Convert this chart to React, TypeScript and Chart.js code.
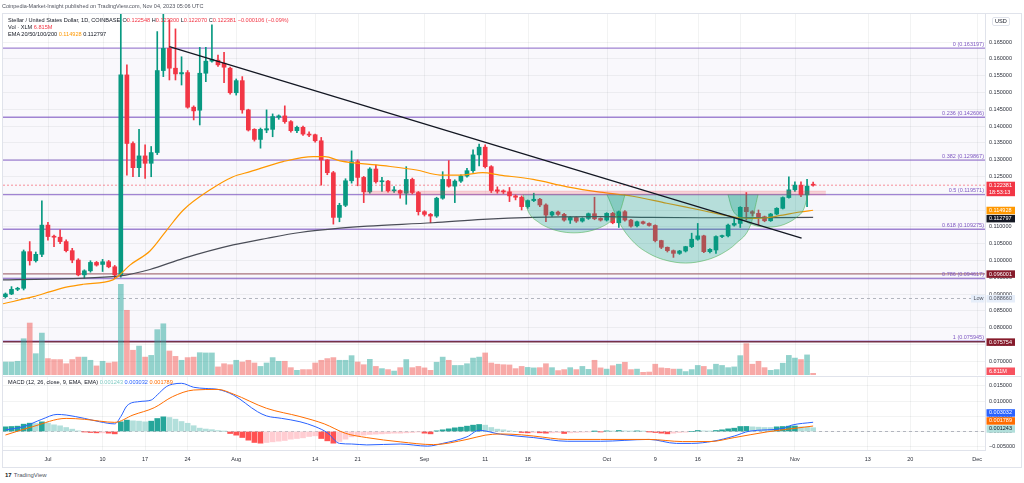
import React, { useEffect, useRef } from 'react';
import { Chart, registerables } from 'chart.js';

Chart.register(...registerables);

const FONT = "'Liberation Sans', Arial, sans-serif";

// ---------- axis ranges ----------
const X_MIN = -7.4; // days since Jul 1 2023
const X_MAX = 154.3;
const PRICE_MIN = 0.065893;
const PRICE_MAX = 0.173631;
const VOLUME_MAX = 1477; // millions
const MACD_MIN = -0.006066;
const MACD_MAX = 0.018197;

// ---------- tick labels ----------
const X_TICK_DAYS = [0, 9, 16, 23, 31, 44, 51, 62, 72, 79, 92, 100, 107, 114, 123, 135, 142, 153];
const X_TICK_LABELS = ['Jul', '10', '17', '24', 'Aug', '14', '21', 'Sep', '11', '18', 'Oct', '9', '16', '23', 'Nov', '13', '20', 'Dec'];
const PRICE_TICKS = [0.07, 0.075, 0.08, 0.085, 0.09, 0.095, 0.1, 0.105, 0.11, 0.115, 0.12, 0.125, 0.13, 0.135, 0.14, 0.145, 0.15, 0.155, 0.16, 0.165];
const MACD_TICKS = [-0.005, 0, 0.005, 0.01, 0.015];

// ---------- candles (daily, first candle = Jun 24) ----------
const FIRST_DAY = -7;
const OPEN = [
  0.0892, 0.0900, 0.0914, 0.0917, 0.1026, 0.0999, 0.1018, 0.1105, 0.1072, 0.1069,
  0.1056, 0.1029, 0.1001, 0.0957, 0.0969, 0.0994, 0.0988, 0.0996, 0.0981, 0.0957,
  0.1552, 0.1348, 0.1276, 0.1311, 0.1289, 0.1321, 0.1565, 0.1631, 0.1572, 0.1555,
  0.1559, 0.1456, 0.1447, 0.1557, 0.1593, 0.1596, 0.1587, 0.1572, 0.1499, 0.1535,
  0.1448, 0.1390, 0.1360, 0.1388, 0.1390, 0.1426, 0.1430, 0.1413, 0.1386, 0.1396,
  0.1376, 0.1374, 0.1356, 0.1299, 0.1261, 0.1128, 0.1164, 0.1237, 0.1294, 0.1247,
  0.1204, 0.1272, 0.1234, 0.1236, 0.1207, 0.1208, 0.1200, 0.1241, 0.1202, 0.1145,
  0.1137, 0.1132, 0.1185, 0.1241, 0.1221, 0.1236, 0.1251, 0.1267, 0.1314, 0.1337,
  0.1279, 0.1210, 0.1206, 0.1204, 0.1192, 0.1188, 0.1160, 0.1178, 0.1182, 0.1165,
  0.1135, 0.1144, 0.1137, 0.1120, 0.1128, 0.1117, 0.1125, 0.1139, 0.1125, 0.1120,
  0.1140, 0.1112, 0.1145, 0.1120, 0.1103, 0.1115, 0.1110, 0.1104, 0.1059, 0.1039,
  0.1029, 0.1021, 0.1028, 0.1041, 0.1063, 0.1073, 0.1026, 0.1031, 0.1071, 0.1073,
  0.1105, 0.1110, 0.1158, 0.1145, 0.1140, 0.1130, 0.1118, 0.1138, 0.1155, 0.1187,
  0.1210, 0.1224, 0.1195, 0.122548,
];
const HIGH = [
  0.0903, 0.0922, 0.0920, 0.1031, 0.1056, 0.1025, 0.1177, 0.1113, 0.1075, 0.1091,
  0.1061, 0.1036, 0.1005, 0.0972, 0.0999, 0.0997, 0.1003, 0.1000, 0.0985, 0.1900,
  0.1582, 0.1353, 0.1390, 0.1344, 0.1339, 0.1681, 0.1760, 0.1716, 0.1689, 0.1606,
  0.1565, 0.1460, 0.1634, 0.1634, 0.1701, 0.1611, 0.1619, 0.1575, 0.1540, 0.1547,
  0.1450, 0.1392, 0.1394, 0.1448, 0.1436, 0.1433, 0.1460, 0.1416, 0.1400, 0.1400,
  0.1383, 0.1376, 0.1366, 0.1300, 0.1265, 0.1170, 0.1243, 0.1326, 0.1299, 0.1250,
  0.1276, 0.1284, 0.1247, 0.1238, 0.1220, 0.1210, 0.1279, 0.1245, 0.1205, 0.1148,
  0.1140, 0.1188, 0.1264, 0.1297, 0.1240, 0.1255, 0.1274, 0.1329, 0.1346, 0.1344,
  0.1282, 0.1219, 0.1210, 0.1217, 0.1195, 0.1192, 0.1180, 0.1200, 0.1185, 0.1168,
  0.1146, 0.1147, 0.1140, 0.1131, 0.1130, 0.1127, 0.1141, 0.1188, 0.1127, 0.1142,
  0.1143, 0.1147, 0.1148, 0.1122, 0.1117, 0.1117, 0.1112, 0.1106, 0.1060, 0.1040,
  0.1031, 0.1030, 0.1042, 0.1081, 0.1110, 0.1075, 0.1035, 0.1073, 0.1075, 0.1108,
  0.1125, 0.1160, 0.1202, 0.1148, 0.1150, 0.1132, 0.1140, 0.1157, 0.1189, 0.1249,
  0.1234, 0.1234, 0.1241, 0.1233,
];
const LOW = [
  0.0889, 0.0898, 0.0910, 0.0912, 0.0986, 0.0995, 0.1011, 0.1060, 0.1041, 0.1050,
  0.1025, 0.0993, 0.0954, 0.0947, 0.0965, 0.0983, 0.0967, 0.0978, 0.0946, 0.0950,
  0.1254, 0.1249, 0.1249, 0.1244, 0.1249, 0.1315, 0.1547, 0.1537, 0.1537, 0.1522,
  0.1453, 0.1418, 0.1403, 0.1532, 0.1590, 0.1577, 0.1529, 0.1495, 0.1492, 0.1438,
  0.1385, 0.1355, 0.1334, 0.1380, 0.1368, 0.1420, 0.1408, 0.1382, 0.1380, 0.1372,
  0.1368, 0.1352, 0.1224, 0.1255, 0.1108, 0.1115, 0.1160, 0.1230, 0.1222, 0.1172,
  0.1200, 0.1230, 0.1205, 0.1203, 0.1202, 0.1185, 0.1167, 0.1198, 0.1135, 0.1132,
  0.1112, 0.1128, 0.1182, 0.1218, 0.1172, 0.1232, 0.1248, 0.1262, 0.1281, 0.1275,
  0.1202, 0.1200, 0.1199, 0.1175, 0.1180, 0.1150, 0.1155, 0.1175, 0.1160, 0.1115,
  0.1131, 0.1134, 0.1117, 0.1110, 0.1113, 0.1114, 0.1122, 0.1121, 0.1117, 0.1117,
  0.1109, 0.1098, 0.1117, 0.1099, 0.1100, 0.1108, 0.1102, 0.1055, 0.1035, 0.1025,
  0.1009, 0.1018, 0.1025, 0.1038, 0.1060, 0.1023, 0.1022, 0.1021, 0.1068, 0.1070,
  0.1102, 0.1098, 0.1120, 0.1132, 0.1105, 0.1115, 0.1116, 0.1136, 0.1153, 0.1185,
  0.1205, 0.1190, 0.1160, 0.12207,
];
const CLOSE = [
  0.0900, 0.0914, 0.0917, 0.1026, 0.0999, 0.1018, 0.1105, 0.1071, 0.1069, 0.1056,
  0.1029, 0.1001, 0.0957, 0.0969, 0.0994, 0.0986, 0.0996, 0.0981, 0.0957, 0.1552,
  0.1348, 0.1276, 0.1311, 0.1289, 0.1321, 0.1565, 0.1631, 0.1572, 0.1555, 0.1559,
  0.1456, 0.1445, 0.1557, 0.1593, 0.1598, 0.1582, 0.1575, 0.1499, 0.1535, 0.1448,
  0.1388, 0.1360, 0.1390, 0.1392, 0.1428, 0.1430, 0.1413, 0.1386, 0.1396, 0.1376,
  0.1373, 0.1356, 0.1299, 0.1261, 0.1128, 0.1164, 0.1237, 0.1294, 0.1247, 0.1204,
  0.1272, 0.1234, 0.1236, 0.1207, 0.1208, 0.1200, 0.1241, 0.1202, 0.1145, 0.1137,
  0.1132, 0.1185, 0.1241, 0.1221, 0.1236, 0.1251, 0.1267, 0.1314, 0.1337, 0.1279,
  0.1208, 0.1206, 0.1204, 0.1192, 0.1188, 0.1160, 0.1178, 0.1182, 0.1165, 0.1135,
  0.1144, 0.1137, 0.1120, 0.1128, 0.1117, 0.1125, 0.1139, 0.1124, 0.1120, 0.1140,
  0.1112, 0.1145, 0.1120, 0.1102, 0.1115, 0.1110, 0.1104, 0.1059, 0.1039, 0.1029,
  0.1021, 0.1028, 0.1041, 0.1063, 0.1073, 0.1026, 0.1033, 0.1071, 0.1073, 0.1105,
  0.1110, 0.1158, 0.1145, 0.1140, 0.1130, 0.1118, 0.1138, 0.1155, 0.1187, 0.1210,
  0.1224, 0.1195, 0.1221, 0.122381,
];
// volume in millions of XLM
const VOLUME = [
  53, 53, 56, 148, 212, 87, 171, 67, 63, 63,
  46, 63, 73, 73, 60, 37, 56, 49, 53, 370,
  264, 101, 118, 73, 80, 185, 209, 98, 76, 60,
  71, 73, 91, 90, 90, 33, 46, 42, 60, 53,
  60, 49, 35, 49, 71, 56, 56, 30, 19, 22,
  22, 49, 60, 67, 71, 60, 60, 79, 53, 42,
  64, 35, 26, 22, 16, 30, 63, 30, 35, 29,
  19, 52, 73, 60, 39, 39, 46, 69, 73, 90,
  49, 44, 42, 41, 26, 35, 31, 29, 30, 46,
  30, 18, 22, 30, 22, 35, 23, 60, 29, 24,
  38, 44, 52, 22, 24, 11, 12, 44, 29, 27,
  24, 24, 14, 22, 39, 35, 22, 44, 39, 30,
  33, 79, 128, 44, 56, 30, 19, 22, 48, 80,
  69, 63, 82, 6.811,
];

// ---------- MACD (values x 1000) ----------
const MACD_HIST_X1000 = [
  1.53, 1.64, 1.75, 2.40, 2.73, 2.62, 3.17, 2.73, 2.19, 1.86,
  1.31, 0.77, 0.22, -0.10, -0.33, -0.44, -0.44, -0.55, -0.77, 3.17,
  3.72, 3.50, 3.39, 3.17, 3.39, 4.26, 4.81, 4.59, 4.04, 3.28,
  2.70, 1.90, 1.10, 0.80, 0.60, 0.30, 0.05, -0.66, -1.20, -1.97,
  -2.84, -3.60, -3.83, -3.60, -3.39, -3.17, -2.95, -2.51, -2.30, -2.08,
  -1.64, -1.42, -2.30, -3.06, -3.83, -3.28, -2.51, -1.75, -1.42, -1.20,
  -0.98, -0.87, -0.77, -0.66, -0.55, -0.55, -0.44, -0.33, -0.11, -0.55,
  -0.77, 0.22, 0.55, 0.87, 1.20, 1.42, 1.75, 2.08, 2.30, 2.08,
  1.31, 0.77, 0.55, 0.22, 0.00, -0.33, -0.44, -0.33, -0.44, -0.55,
  -0.44, -0.33, -0.66, -0.44, -0.33, -0.22, -0.11, 0.05, -0.10, 0.20,
  0.10, 0.33, 0.20, 0.10, 0.20, 0.10, -0.05, -0.33, -0.55, -0.77,
  -0.55, -0.33, -0.22, 0.00, 0.33, 0.20, 0.10, 0.33, 0.55, 0.87,
  1.09, 1.64, 1.66, 1.53, 1.42, 1.31, 1.30, 1.53, 1.64, 1.75,
  1.80, 1.53, 1.42, 1.243,
];
const MACD_DAYS = [-7, -4, -1, 1.5, 3, 6, 8.5, 11, 12, 13, 15, 17, 18, 19.5, 20.5, 22, 24, 26, 28, 30.5, 34.5, 36, 38.5, 41.5, 44, 46, 48, 50, 52.5, 58, 62.5, 65, 69, 71, 74.5, 80, 85.5, 91, 99, 103.5, 106, 109.5, 113, 115.5, 121, 122.5, 126];
const MACD_X1000 = [0.5, 1.6, 4.0, 5.6, 5.4, 4.3, 3.2, 2.5, 4.9, 8.4, 9.8, 10.3, 12.0, 14.7, 15.5, 15.8, 14.5, 14.1, 13.8, 12.0, 6.5, 5.1, 4.3, 3.2, 1.6, -0.4, -3.9, -4.1, -4.4, -4.1, -4.8, -3.9, -1.75, 0.4, -0.9, -2.0, -3.2, -3.2, -2.6, -3.9, -3.9, -3.2, -1.5, 0.1, 1.0, 2.1, 3.032];
const SIGNAL_DAYS = [-7, -2.5, 3, 6, 11, 14, 17.5, 20.5, 24, 28, 30.5, 36, 41.5, 45.5, 49, 52.5, 58, 63.5, 69, 72, 74.5, 78, 80, 85.5, 91, 99, 104.5, 109, 113, 118.5, 124, 126];
const SIGNAL_X1000 = [-1.15, 1.6, 4.3, 4.0, 3.0, 5.4, 7.8, 11.4, 13.6, 13.8, 12.3, 7.6, 4.9, 2.5, -0.6, -2.0, -3.4, -4.3, -2.6, -1.2, -0.8, -1.1, -1.5, -2.6, -2.6, -2.6, -3.3, -3.3, -2.0, -0.1, 1.3, 1.789];

// ---------- EMAs ----------
const EMA50_DAYS = [-7.4, -2.4, 0.4, 3.2, 5.8, 10.7, 12, 13.5, 16.8, 19.6, 22.3, 26.7, 30.5, 33.3, 38.7, 43.7, 45.6, 48.1, 55.2, 60.7, 64.6, 67.9, 71.6, 74.4, 79.9, 85.5, 90.9, 96.3, 101.9, 107.4, 112.8, 115.6, 118.4, 121.0, 123.8, 126];
const EMA50_VALUES = [0.0871, 0.0892, 0.0907, 0.0921, 0.0929, 0.0942, 0.0960, 0.0986, 0.1028, 0.1091, 0.1150, 0.1210, 0.1249, 0.1264, 0.1294, 0.1309, 0.1309, 0.1296, 0.1282, 0.1269, 0.1254, 0.1254, 0.1261, 0.1254, 0.1241, 0.1219, 0.1203, 0.1191, 0.1170, 0.1150, 0.1130, 0.1125, 0.1127, 0.1135, 0.1144, 0.114928];
const EMA200_DAYS = [-7.9, 11.9, 16.8, 22.3, 30.5, 36.1, 41.5, 48.1, 52.6, 63.4, 71.6, 79.9, 90.9, 99.1, 107.4, 126];
const EMA200_VALUES = [0.0942, 0.0954, 0.0973, 0.1006, 0.1046, 0.1066, 0.1083, 0.1096, 0.1102, 0.1112, 0.1122, 0.1128, 0.1130, 0.1128, 0.1127, 0.112797];

// ---------- drawings ----------
const FIB_RATIOS = ['0', '0.236', '0.382', '0.5', '0.618', '0.786', '1'];
const FIB_LEVELS = [0.163197, 0.142606, 0.129867, 0.119571, 0.109275, 0.094617, 0.075945];
const SUPPORT_LEVELS = [0.096001, 0.075754];
const LAST_PRICE = 0.122381;
const LOW_PRICE = 0.08866;
const TREND_DAYS = [20, 124.1];
const TREND_VALUES = [0.1636, 0.1066];
const ZONE_DAYS = [51.9, 128.1];
const ZONE_LOW = 0.1194;
const ZONE_HIGH = 0.1206;
const CUP_TOP = 0.1196;
const CUP1_DAYS = [78.24, 79.08, 80.75, 82.43, 84.11, 86.63, 89.15, 90.83, 92.51, 94.19, 95.03];
const CUP1_VALUES = [0.1196, 0.1146, 0.1114, 0.1097, 0.1087, 0.1082, 0.1087, 0.1097, 0.1114, 0.1146, 0.1196];
const CUP2_DAYS = [92.05, 94.25, 96.63, 99.02, 101.41, 104.99, 108.57, 110.96, 113.34, 115.73, 116.93];
const CUP2_VALUES = [0.1196, 0.1107, 0.1051, 0.1020, 0.1002, 0.0992, 0.1002, 0.1020, 0.1051, 0.1107, 0.1196];
const CUP3_DAYS = [111.98, 112.64, 113.96, 115.28, 116.59, 118.57, 120.54, 121.86, 123.18, 124.49, 125.15];
const CUP3_VALUES = [0.1196, 0.1154, 0.1127, 0.1112, 0.1103, 0.1099, 0.1103, 0.1112, 0.1127, 0.1154, 0.1196];

// ---------- styles ----------
const GREEN = '#089981';
const RED = '#f23645';
const GRID = 'rgba(42,46,57,0.06)';
const AXIS_TEXT = '#2a2e39';
const TAG_FONT = `5.5px ${FONT}`;

const pts = (xs: number[], ys: number[], k = 1) => xs.map((x, i) => ({ x, y: ys[i] * k }));
const span = (v: number) => [{ x: X_MIN, y: v }, { x: X_MAX, y: v }];

function drawTag(ctx: any, x: number, yc: number, w: number, bg: string, fg: string, lines: string[]) {
  const h = 7 * lines.length + 0.5;
  const top = yc - 3.5;
  ctx.fillStyle = bg;
  ctx.fillRect(x, top, w, h);
  ctx.fillStyle = fg;
  ctx.font = TAG_FONT;
  ctx.textAlign = 'left';
  ctx.textBaseline = 'middle';
  lines.forEach((t, i) => ctx.fillText(t, x + 2.5, top + 3.7 + i * 7));
}

const priceDecor = {
  id: 'priceDecor',
  beforeDatasetsDraw(chart: any) {
    const { ctx, chartArea, scales } = chart;
    ctx.save();
    ctx.strokeStyle = GRID;
    ctx.lineWidth = 1;
    X_TICK_DAYS.forEach((d) => {
      const px = Math.round(scales.x.getPixelForValue(d)) + 0.5;
      ctx.beginPath();
      ctx.moveTo(px, chartArea.top);
      ctx.lineTo(px, chartArea.bottom);
      ctx.stroke();
    });
    ctx.restore();
  },
  afterDatasetsDraw(chart: any) {
    const { ctx, chartArea, scales } = chart;
    ctx.save();
    ctx.font = TAG_FONT;
    ctx.fillStyle = '#7e57c2';
    ctx.textAlign = 'right';
    ctx.textBaseline = 'alphabetic';
    FIB_LEVELS.forEach((v, i) => {
      ctx.fillText(`${FIB_RATIOS[i]} (${v.toFixed(6)})`, chartArea.right - 1, scales.y.getPixelForValue(v) - 2.5);
    });
    ctx.restore();
  },
  afterDraw(chart: any) {
    const { ctx, chartArea, scales } = chart;
    const y = scales.y;
    const x0 = chartArea.right + 1.5;
    const w = 28.5;
    ctx.save();
    drawTag(ctx, x0, y.getPixelForValue(SUPPORT_LEVELS[0]), w, '#861b2b', '#ffffff', [SUPPORT_LEVELS[0].toFixed(6)]);
    drawTag(ctx, x0, y.getPixelForValue(SUPPORT_LEVELS[1]), w, '#861b2b', '#ffffff', [SUPPORT_LEVELS[1].toFixed(6)]);
    const lowY = y.getPixelForValue(LOW_PRICE);
    drawTag(ctx, x0, lowY, w, '#e6eefa', '#50535e', [LOW_PRICE.toFixed(6)]);
    drawTag(ctx, chartArea.right - 14, lowY, 13.5, '#e6eefa', '#50535e', ['Low']);
    const ema50 = EMA50_VALUES[EMA50_VALUES.length - 1];
    const ema200 = EMA200_VALUES[EMA200_VALUES.length - 1];
    drawTag(ctx, x0, y.getPixelForValue(ema50), w, '#ff9800', '#ffffff', [ema50.toFixed(6)]);
    drawTag(ctx, x0, y.getPixelForValue(ema200) + 1, w, '#131722', '#ffffff', [ema200.toFixed(6)]);
    drawTag(ctx, x0, y.getPixelForValue(LAST_PRICE), w, RED, '#ffffff', [LAST_PRICE.toFixed(6), '18:53:13']);
    const lastVol = VOLUME[VOLUME.length - 1];
    const volY = Math.min(scales.yVol.getPixelForValue(lastVol), chartArea.bottom - 4);
    drawTag(ctx, x0, volY, w, '#f7525f', '#ffffff', [`${lastVol.toFixed(3)}M`]);
    ctx.restore();
  },
};

const macdDecor = {
  id: 'macdDecor',
  afterDraw(chart: any) {
    const { ctx, chartArea, scales } = chart;
    const y = scales.y;
    const x0 = chartArea.right + 1.5;
    const w = 28.5;
    const tags = [
      { v: MACD_HIST_X1000[MACD_HIST_X1000.length - 1] / 1000, bg: '#b2dfdb', fg: '#131722' },
      { v: SIGNAL_X1000[SIGNAL_X1000.length - 1] / 1000, bg: '#ff6d00', fg: '#ffffff' },
      { v: MACD_X1000[MACD_X1000.length - 1] / 1000, bg: '#2962ff', fg: '#ffffff' },
    ];
    let prev = Infinity;
    ctx.save();
    tags.forEach((t) => {
      const py = Math.min(y.getPixelForValue(t.v) + 1, prev - 8);
      prev = py;
      drawTag(ctx, x0, py, w, t.bg, t.fg, [t.v.toFixed(6)]);
    });
    ctx.restore();
  },
};

function PriceChart() {
  const ref = useRef<HTMLCanvasElement | null>(null);
  useEffect(() => {
    if (!ref.current) return;
    const days = OPEN.map((_, i) => FIRST_DAY + i);
    const candleColors = OPEN.map((o, i) => (CLOSE[i] >= o ? GREEN : RED));
    const volColors = OPEN.map((o, i) => (CLOSE[i] >= o ? 'rgba(38,166,154,0.5)' : 'rgba(239,83,80,0.5)'));
    const lineBase = { type: 'line', pointRadius: 0, fill: false, tension: 0 };
    const cup = (xs: number[], ys: number[]) => ({
      ...lineBase,
      data: pts(xs, ys),
      cubicInterpolationMode: 'monotone',
      fill: { value: CUP_TOP },
      backgroundColor: 'rgba(8,153,129,0.28)',
      borderColor: 'rgba(76,175,80,0.55)',
      borderWidth: 1,
      order: 20,
    });
    const datasets: any[] = [
      { ...lineBase, data: span(FIB_LEVELS[0]), fill: { value: FIB_LEVELS[FIB_LEVELS.length - 1] }, backgroundColor: 'rgba(126,87,194,0.045)', borderWidth: 0, order: 100 },
      ...FIB_LEVELS.map((v) => ({ ...lineBase, data: span(v), borderColor: 'rgba(126,87,194,0.72)', borderWidth: 1.3, order: 90 })),
      { ...lineBase, data: span(SUPPORT_LEVELS[0]), borderColor: '#a8737b', borderWidth: 1.2, order: 89 },
      { ...lineBase, data: span(SUPPORT_LEVELS[1]), borderColor: '#74304a', borderWidth: 1.5, order: 89 },
      { ...lineBase, data: span(LOW_PRICE), borderColor: '#b2b5be', borderWidth: 1, borderDash: [3, 3], order: 88 },
      { ...lineBase, data: span(LAST_PRICE), borderColor: 'rgba(242,54,69,0.55)', borderWidth: 1, borderDash: [2, 2], order: 88 },
      { type: 'bar', yAxisID: 'yVol', data: days.map((d, i) => ({ x: d, y: VOLUME[i] })), backgroundColor: volColors, barThickness: 5, grouped: false, order: 70 },
      { type: 'bar', data: days.map((d, i) => ({ x: d, y: [LOW[i], HIGH[i]] })), backgroundColor: candleColors, barThickness: 1, grouped: false, order: 51 },
      { type: 'bar', data: days.map((d, i) => ({ x: d, y: [OPEN[i], CLOSE[i]] })), backgroundColor: candleColors, barThickness: 4, minBarLength: 1, grouped: false, order: 50 },
      { ...lineBase, data: pts(EMA200_DAYS, EMA200_VALUES), cubicInterpolationMode: 'monotone', borderColor: '#4a4d57', borderWidth: 1.2, order: 40 },
      { ...lineBase, data: pts(EMA50_DAYS, EMA50_VALUES), cubicInterpolationMode: 'monotone', borderColor: '#ff9800', borderWidth: 1.2, order: 39 },
      cup(CUP1_DAYS, CUP1_VALUES),
      cup(CUP2_DAYS, CUP2_VALUES),
      cup(CUP3_DAYS, CUP3_VALUES),
      { ...lineBase, data: [{ x: ZONE_DAYS[0], y: ZONE_HIGH }, { x: ZONE_DAYS[1], y: ZONE_HIGH }], fill: { value: ZONE_LOW }, backgroundColor: 'rgba(242,54,69,0.2)', borderColor: 'rgba(242,54,69,0.25)', borderWidth: 0.8, order: 15 },
      { ...lineBase, data: pts(TREND_DAYS, TREND_VALUES), borderColor: '#131722', borderWidth: 1.3, order: 5 },
    ];
    const chart = new Chart(ref.current, {
      type: 'bar',
      data: { datasets },
      options: {
        responsive: false,
        animation: false,
        events: [],
        layout: { padding: { left: 3, top: 13, right: 0, bottom: 9 } },
        plugins: { legend: { display: false }, tooltip: { enabled: false } },
        scales: {
          x: { type: 'linear', display: false, min: X_MIN, max: X_MAX, offset: false },
          y: {
            type: 'linear',
            position: 'right',
            min: PRICE_MIN,
            max: PRICE_MAX,
            grid: { color: GRID, drawTicks: false },
            border: { display: true, color: '#e0e3eb' },
            ticks: { padding: 4, font: { family: FONT, size: 5.5 }, color: AXIS_TEXT, callback: (v: any) => Number(v).toFixed(6) },
            afterBuildTicks: (s: any) => { s.ticks = PRICE_TICKS.map((v) => ({ value: v })); },
            afterFit: (s: any) => { s.width = 39; },
          },
          yVol: { type: 'linear', display: false, min: 0, max: VOLUME_MAX },
        },
      } as any,
      plugins: [priceDecor],
    });
    return () => chart.destroy();
  }, []);
  return <canvas ref={ref} width={1024} height={384} style={{ position: 'absolute', left: 0, top: 0, width: 1024, height: 384 }} />;
}

function MacdChart() {
  const ref = useRef<HTMLCanvasElement | null>(null);
  useEffect(() => {
    if (!ref.current) return;
    const days = MACD_HIST_X1000.map((_, i) => FIRST_DAY + i);
    const histColors = MACD_HIST_X1000.map((v, i) => {
      const prev = i > 0 ? MACD_HIST_X1000[i - 1] : v;
      if (v >= 0) return v >= prev ? '#26a69a' : '#b2dfdb';
      return v < prev ? '#ff5252' : '#ffcdd2';
    });
    const lineBase = { type: 'line', pointRadius: 0, fill: false, cubicInterpolationMode: 'monotone' };
    const chart = new Chart(ref.current, {
      type: 'bar',
      data: {
        datasets: [
          { ...lineBase, data: span(0), borderColor: '#b2b5be', borderWidth: 1, borderDash: [3, 3], order: 50 },
          { type: 'bar', data: days.map((d, i) => ({ x: d, y: MACD_HIST_X1000[i] / 1000 })), backgroundColor: histColors, barThickness: 5, grouped: false, order: 30 },
          { ...lineBase, data: pts(MACD_DAYS, MACD_X1000, 0.001), borderColor: '#2962ff', borderWidth: 1, order: 10 },
          { ...lineBase, data: pts(SIGNAL_DAYS, SIGNAL_X1000, 0.001), borderColor: '#ff6d00', borderWidth: 1, order: 9 },
        ] as any[],
      },
      options: {
        responsive: false,
        animation: false,
        events: [],
        layout: { padding: { left: 3, top: 9, right: 0, bottom: 0 } },
        plugins: { legend: { display: false }, tooltip: { enabled: false } },
        scales: {
          x: {
            type: 'linear',
            min: X_MIN,
            max: X_MAX,
            offset: false,
            grid: { color: GRID, drawTicks: false, offset: false },
            border: { display: true, color: '#e0e3eb' },
            ticks: {
              padding: 6,
              maxRotation: 0,
              autoSkip: false,
              font: { family: FONT, size: 5.5 },
              color: AXIS_TEXT,
              callback: (v: number) => {
                const i = X_TICK_DAYS.indexOf(v);
                return i >= 0 ? X_TICK_LABELS[i] : '';
              },
            },
            afterBuildTicks: (s: any) => { s.ticks = X_TICK_DAYS.map((v) => ({ value: v })); },
            afterFit: (s: any) => { s.height = 17; },
          },
          y: {
            type: 'linear',
            position: 'right',
            min: MACD_MIN,
            max: MACD_MAX,
            grid: { color: GRID, drawTicks: false },
            border: { display: true, color: '#e0e3eb' },
            ticks: { padding: 4, font: { family: FONT, size: 5.5 }, color: AXIS_TEXT, callback: (v: any) => (Number(v) < 0 ? '\u2212' : '') + Math.abs(Number(v)).toFixed(6) },
            afterBuildTicks: (s: any) => { s.ticks = MACD_TICKS.map((v) => ({ value: v })); },
            afterFit: (s: any) => { s.width = 39; },
          },
        },
      } as any,
      plugins: [macdDecor],
    });
    return () => chart.destroy();
  }, []);
  return <canvas ref={ref} width={1024} height={100} style={{ position: 'absolute', left: 0, top: 367, width: 1024, height: 100 }} />;
}

const txt = (extra: React.CSSProperties): React.CSSProperties => ({
  position: 'absolute',
  fontFamily: FONT,
  fontSize: 5.6,
  lineHeight: '7px',
  whiteSpace: 'nowrap',
  color: '#131722',
  zIndex: 5,
  ...extra,
});

export default function App() {
  return (
    <div style={{ position: 'fixed', left: 0, top: 0, width: 1024, height: 483, background: '#ffffff', overflow: 'hidden' }}>
      <PriceChart />
      <MacdChart />
      <div style={{ position: 'absolute', left: 2, top: 13, width: 1018, height: 453, border: '1px solid #e0e3eb', zIndex: 4, pointerEvents: 'none' }} />
      <div style={{ position: 'absolute', left: 2, top: 375.5, width: 1019, height: 1, background: '#e0e3eb', zIndex: 4 }} />
      <div style={txt({ left: 2, top: 2.5, color: '#50535e', fontSize: 5.5 })}>Coinpedia-Market-Insight published on TradingView.com, Nov 04, 2023 05:06 UTC</div>
      <div style={txt({ left: 8, top: 16.5 })}>Stellar / United States Dollar, 1D, COINBASE</div>
      <div style={txt({ left: 122.5, top: 16.5 })}>
        O<span style={{ color: RED }}>0.122548</span> H<span style={{ color: RED }}>0.123300</span> L<span style={{ color: RED }}>0.122070</span> C<span style={{ color: RED }}>0.122381</span> <span style={{ color: RED }}>−0.000106 (−0.09%)</span>
      </div>
      <div style={txt({ left: 8, top: 24 })}>
        Vol · XLM <span style={{ color: RED }}>6.815M</span>
      </div>
      <div style={txt({ left: 8, top: 31 })}>
        EMA 20/50/100/200 <span style={{ color: '#ff9800' }}>0.114928</span> <span style={{ color: '#131722' }}>0.112797</span>
      </div>
      <div style={txt({ left: 992, top: 16.5, border: '1px solid #e0e3eb', borderRadius: 2, padding: '0 2px', color: '#131722' })}>USD</div>
      <div style={txt({ left: 8, top: 378.5 })}>
        MACD (12, 26, close, 9, EMA, EMA) <span style={{ color: '#80cbc4' }}>0.001243</span> <span style={{ color: '#2962ff' }}>0.003032</span> <span style={{ color: '#ff6d00' }}>0.001789</span>
      </div>
      <div style={txt({ left: 5, top: 471.5, fontSize: 6 })}>
        <span style={{ fontWeight: 'bold', marginRight: 2 }}>17</span>
        <span style={{ color: '#50535e' }}>TradingView</span>
      </div>
    </div>
  );
}
